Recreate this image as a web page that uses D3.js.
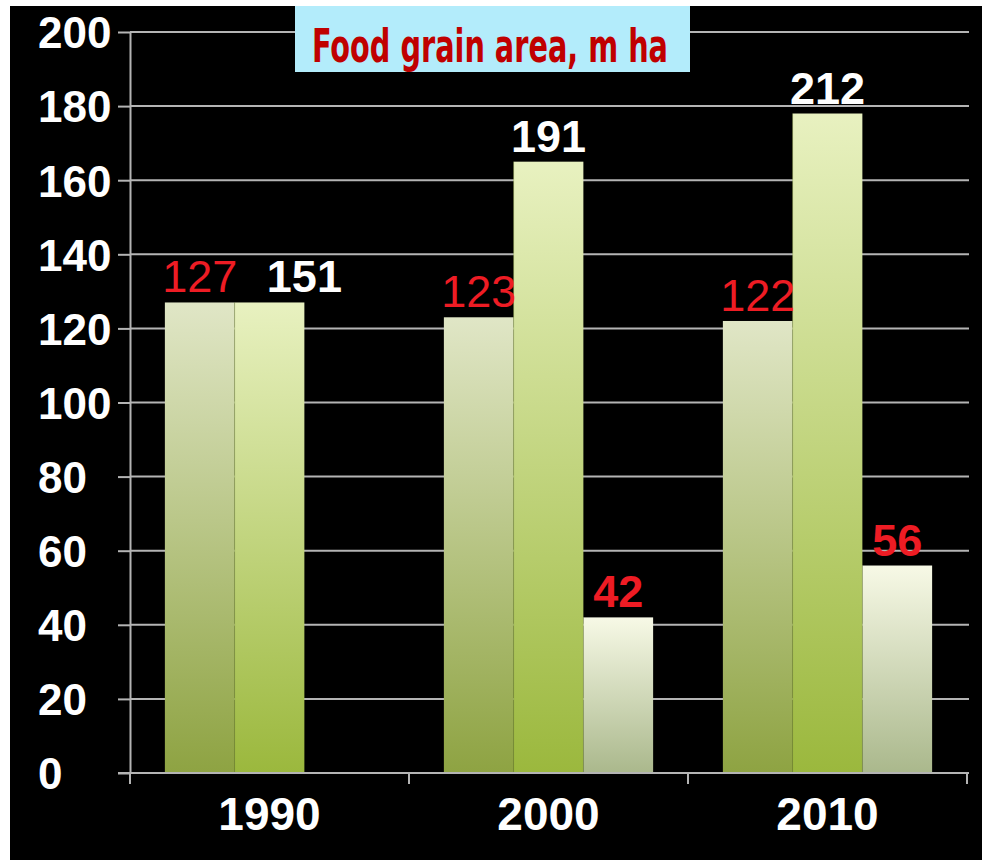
<!DOCTYPE html>
<html>
<head>
<meta charset="utf-8">
<script src="https://cdn.jsdelivr.net/npm/d3@7"></script>
<style>
    html, body { margin: 0; padding: 0; background: #fff; }
    svg { display: block; }
</style>
</head>
<body>
<div id="chart-area"></div>
<script>
// values
const YEARS = ['1990', '2000', '2010'];
const SERIES = ['a', 'b', 'c'];
const BAR_A = [127, 123, 122];
const BAR_B = [127, 165, 178];
const BAR_C = [null, 42, 56];
const LABEL_A = ['127', '123', '122'];
const LABEL_B = ['151', '191', '212'];
const LABEL_C = ['', '42', '56'];
const Y_TICKS = [0, 20, 40, 60, 80, 100, 120, 140, 160, 180, 200];
const TITLE = 'Food grain area, m ha';

const WIDTH = 982,
    HEIGHT = 860,
    X_LEFT = 130,
    X_RIGHT = 967,
    Y_TOP = 32,
    Y_BOTTOM = 773,
    FONT = '"Liberation Sans", Arial, sans-serif',
    GRID = '#b4b4b4',
    RED = '#ee1c24';

// gradient stops per series, top -> bottom
const GRADS = {
    a: ['#e0e6c6', '#8ea342'],
    b: ['#e8f1c0', '#9bb83d'],
    c: ['#f7f9e6', '#aab88c']
};

const svg = d3.select('#chart-area')
    .append('svg')
    .attr('width', WIDTH)
    .attr('height', HEIGHT);

const defs = svg.append('defs');
SERIES.forEach(s => {
    const g = defs.append('linearGradient')
        .attr('id', 'grad-' + s)
        .attr('x1', 0).attr('y1', 0).attr('x2', 0).attr('y2', 1);
    g.append('stop').attr('offset', '0%').attr('stop-color', GRADS[s][0]);
    g.append('stop').attr('offset', '100%').attr('stop-color', GRADS[s][1]);
});

// black panel
svg.append('rect')
    .attr('x', 10).attr('y', 6)
    .attr('width', WIDTH - 10).attr('height', HEIGHT - 6)
    .attr('fill', '#000');

const y = d3.scaleLinear().domain([0, 200]).range([Y_BOTTOM, Y_TOP]);
const x0 = d3.scaleBand().domain(YEARS).range([X_LEFT, X_RIGHT]).padding(0);
const x1 = d3.scaleBand().domain(SERIES).range([0, x0.bandwidth()]).paddingInner(0).paddingOuter(0.5);

// gridlines
svg.append('g')
    .selectAll('line')
    .data(Y_TICKS.filter(d => d > 0))
    .join('line')
    .attr('x1', X_LEFT).attr('x2', X_RIGHT + 2)
    .attr('y1', d => y(d)).attr('y2', d => y(d))
    .attr('stroke', GRID)
    .attr('stroke-width', 2);

// y axis
const yAxis = svg.append('g')
    .attr('transform', `translate(${X_LEFT},0)`)
    .call(d3.axisLeft(y).tickValues(Y_TICKS).tickSize(12).tickSizeOuter(0));
yAxis.select('.domain').attr('stroke', GRID).attr('stroke-width', 2);
yAxis.selectAll('.tick line').attr('stroke', GRID).attr('stroke-width', 2);
yAxis.selectAll('.tick text')
    .attr('x', 38 - X_LEFT)
    .attr('dy', '0.36em')
    .attr('text-anchor', 'start')
    .attr('fill', '#fff')
    .style('font-family', FONT)
    .style('font-weight', 'bold')
    .style('font-size', '44px');

// bars
const rows = YEARS.map((year, i) => ({
    year,
    items: [
        {key: 'a', value: BAR_A[i], label: LABEL_A[i]},
        {key: 'b', value: BAR_B[i], label: LABEL_B[i]},
        {key: 'c', value: BAR_C[i], label: LABEL_C[i]}
    ].filter(d => d.value != null)
}));

const groups = svg.append('g')
    .selectAll('g')
    .data(rows)
    .join('g')
    .attr('transform', d => `translate(${x0(d.year)},0)`);

groups.selectAll('rect')
    .data(d => d.items)
    .join('rect')
    .attr('x', d => x1(d.key))
    .attr('y', d => y(d.value))
    .attr('width', x1.bandwidth())
    .attr('height', d => y(0) - y(d.value))
    .attr('fill', d => `url(#grad-${d.key})`);

// thin seam between neighbouring bars
groups.selectAll('line.seam')
    .data(d => d.items.slice(1))
    .join('line')
    .attr('class', 'seam')
    .attr('x1', d => x1(d.key)).attr('x2', d => x1(d.key))
    .attr('y1', d => y(d.value)).attr('y2', y(0))
    .attr('stroke', '#7f9438')
    .attr('stroke-opacity', 0.35)
    .attr('stroke-width', 1);

// value labels; nudge a label right when it would collide with its neighbour
groups.selectAll('text')
    .data(d => d.items.map((it, i, arr) => {
        const prev = arr[i - 1];
        const clash = prev && Math.abs(prev.value - it.value) < 8;
        return {...it, nudge: clash ? x1.bandwidth() / 2 : 0};
    }))
    .join('text')
    .attr('x', d => x1(d.key) + x1.bandwidth() / 2 + d.nudge)
    .attr('y', d => y(d.value) - 10)
    .attr('text-anchor', 'middle')
    .attr('fill', d => d.key === 'b' ? '#fff' : RED)
    .style('font-family', FONT)
    .style('font-weight', d => d.key === 'a' ? 'normal' : 'bold')
    .style('font-size', '45px')
    .text(d => d.label);

// x axis
svg.append('line')
    .attr('x1', X_LEFT - 12).attr('x2', X_RIGHT + 2)
    .attr('y1', y(0)).attr('y2', y(0))
    .attr('stroke', GRID)
    .attr('stroke-width', 2);

svg.append('g')
    .selectAll('line')
    .data(YEARS.map(d => x0(d)).concat([X_RIGHT]))
    .join('line')
    .attr('x1', d => d).attr('x2', d => d)
    .attr('y1', y(0)).attr('y2', y(0) + 11)
    .attr('stroke', GRID)
    .attr('stroke-width', 2);

svg.append('g')
    .selectAll('text')
    .data(YEARS)
    .join('text')
    .attr('x', d => x0(d) + x0.bandwidth() / 2)
    .attr('y', 830)
    .attr('text-anchor', 'middle')
    .attr('fill', '#fff')
    .style('font-family', FONT)
    .style('font-weight', 'bold')
    .style('font-size', '46px')
    .text(d => d);

// title box
svg.append('rect')
    .attr('x', 295).attr('y', 6)
    .attr('width', 395).attr('height', 66)
    .attr('fill', '#b3ecfb');

svg.append('text')
    .attr('x', 312)
    .attr('y', 62)
    .attr('textLength', 356)
    .attr('lengthAdjust', 'spacingAndGlyphs')
    .attr('fill', '#c00000')
    .style('font-family', '"DejaVu Sans Condensed", "DejaVu Sans", sans-serif')
    .style('font-stretch', 'condensed')
    .style('font-weight', 'bold')
    .style('font-size', '47px')
    .text(TITLE);
</script>
</body>
</html>
